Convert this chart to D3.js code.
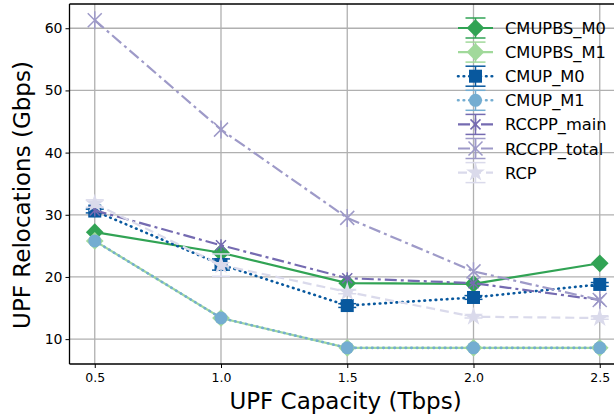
<!DOCTYPE html>
<html>
<head>
<meta charset="utf-8">
<script src="https://cdn.jsdelivr.net/npm/d3@7"></script>
<style>
  body { margin: 0; background: #fff; }
  svg { font-family: "DejaVu Sans", sans-serif; }
</style>
</head>
<body>
<div id="svganchor"></div>
<script>
// data
let capacities = [0.5, 1.0, 1.5, 2.0, 2.5];
let xTicks = [0.5, 1.0, 1.5, 2.0, 2.5];
let yTicks = [10, 20, 30, 40, 50, 60];

let seriesNames = ["CMUPBS_M0", "CMUPBS_M1", "CMUP_M0", "CMUP_M1", "RCCPP_main", "RCCPP_total", "RCP"];
let cmupbsM0 = [27.2, 23.9, 19.0, 18.9, 22.2];
let cmupbsM1 = [25.8, 13.4, 8.6, 8.6, 8.6];
let cmupM0 = [30.6, 22.0, 15.4, 16.7, 18.8];
let cmupM1 = [25.8, 13.4, 8.6, 8.6, 8.6];
let rccppMain = [30.7, 25.1, 19.8, 19.0, 16.3];
let rccppTotal = [61.3, 43.7, 29.5, 20.9, 16.3];
let rcp = [31.8, 21.9, 17.6, 13.6, 13.4];
// half-widths of the error bars
let cmupM0Err = [0.3, 0.9, 0.3, 0.3, 0.3];
let rcpErr = [0.6, 1.8, 0.3, 0.2, 0.2];

let width = 614, height = 419;
let margin = { top: 4, right: -11, bottom: 55, left: 69.5 };

let svg = d3.select("#svganchor").append("svg").attr("width", width).attr("height", height);

let xScale = d3.scaleLinear().domain([0.4, 2.6]).range([margin.left, width - margin.right]);
let yScale = d3.scaleLinear().domain([6.0, 63.9]).range([height - margin.bottom, margin.top]);

// grid
svg.append("g").selectAll("line").data(xTicks).enter().append("line")
  .attr("x1", d => xScale(d)).attr("x2", d => xScale(d))
  .attr("y1", margin.top).attr("y2", height - margin.bottom)
  .attr("stroke", "#b0b0b0").attr("stroke-width", 1.3);
svg.append("g").selectAll("line").data(yTicks).enter().append("line")
  .attr("x1", margin.left).attr("x2", width)
  .attr("y1", d => yScale(d)).attr("y2", d => yScale(d))
  .attr("stroke", "#b0b0b0").attr("stroke-width", 1.3);

// axes
let xAxis = d3.axisBottom(xScale).tickValues(xTicks).tickFormat(d3.format(".1f")).tickSize(4).tickPadding(5);
let yAxis = d3.axisLeft(yScale).tickValues(yTicks).tickSize(4).tickPadding(3);

svg.append("g").attr("transform", "translate(0," + (height - margin.bottom) + ")").call(xAxis)
  .call(g => g.select(".domain").remove())
  .call(g => g.selectAll("text").attr("font-size", 12.5).attr("fill", "#000").attr("font-family", "DejaVu Sans"));
svg.append("g").attr("transform", "translate(" + margin.left + ",0)").call(yAxis)
  .call(g => g.select(".domain").remove())
  .call(g => g.selectAll("text").attr("font-size", 14).attr("fill", "#000").attr("font-family", "DejaVu Sans"));

let dotted = "0.6,5";
let series = [
  { name: "CMUPBS_M0", values: cmupbsM0, color: "#31a354", dash: null, marker: "diamond", err: null },
  { name: "CMUPBS_M1", values: cmupbsM1, color: "#a1d99b", dash: null, marker: "diamond", err: null },
  { name: "CMUP_M0", values: cmupM0, color: "#08589e", dash: dotted, marker: "square", err: cmupM0Err },
  { name: "CMUP_M1", values: cmupM1, color: "#74add1", dash: dotted, marker: "circle", err: null },
  { name: "RCCPP_main", values: rccppMain, color: "#756bb1", dash: "12,4,3,4", marker: "xsmall", err: null },
  { name: "RCCPP_total", values: rccppTotal, color: "#9e9ac8", dash: "12,4,3,4", marker: "asterisk", err: null },
  { name: "RCP", values: rcp, color: "#dadaeb", dash: "9,5", marker: "star", err: rcpErr }
];

function drawMarker(g, type, color) {
  if (type === "diamond") {
    g.append("path").attr("d", d3.symbol(d3.symbolDiamond2, 200)()).attr("fill", color);
  } else if (type === "square") {
    g.append("rect").attr("x", -6.5).attr("y", -6.5).attr("width", 13).attr("height", 13).attr("fill", color);
  } else if (type === "circle") {
    g.append("circle").attr("r", 6.5).attr("fill", color);
  } else if (type === "xsmall") {
    g.append("path").attr("d", "M-5,-5L5,5M-5,5L5,-5M0,-6L0,6").attr("stroke", color).attr("stroke-width", 1.5);
  } else if (type === "asterisk") {
    g.append("path").attr("d", "M-7,-7L7,7M-7,7L7,-7M0,-9L0,9").attr("stroke", color).attr("stroke-width", 1.5);
  } else if (type === "star") {
    g.append("path").attr("d", d3.symbol(d3.symbolStar, 110)()).attr("fill", color);
  }
}

let line = d3.line().x((d, i) => xScale(capacities[i])).y(d => yScale(d));

series.forEach(function (s) {
  let g = svg.append("g").attr("class", "series");
  g.append("path").datum(s.values).attr("d", line)
    .attr("fill", "none").attr("stroke", s.color).attr("stroke-width", s.dash === dotted ? 2.6 : 2.2)
    .attr("stroke-dasharray", s.dash).attr("stroke-linecap", s.dash === dotted ? "round" : "butt");
  if (s.err) {
    s.values.forEach(function (v, i) {
      let x = xScale(capacities[i]);
      let y1 = yScale(v - s.err[i]), y2 = yScale(v + s.err[i]);
      g.append("line").attr("x1", x).attr("x2", x).attr("y1", y1).attr("y2", y2).attr("stroke", s.color).attr("stroke-width", 1.5);
      [y1, y2].forEach(function (yy) {
        g.append("line").attr("x1", x - 9).attr("x2", x + 9).attr("y1", yy).attr("y2", yy).attr("stroke", s.color).attr("stroke-width", 1.5);
      });
    });
  }
  s.values.forEach(function (v, i) {
    let m = g.append("g").attr("transform", "translate(" + xScale(capacities[i]) + "," + yScale(v) + ")");
    drawMarker(m, s.marker, s.color);
  });
});

// spines (left, bottom, top)
svg.append("line").attr("x1", margin.left).attr("x2", margin.left).attr("y1", margin.top).attr("y2", height - margin.bottom)
  .attr("stroke", "#000").attr("stroke-width", 1.3);
svg.append("line").attr("x1", margin.left).attr("x2", width).attr("y1", height - margin.bottom).attr("y2", height - margin.bottom)
  .attr("stroke", "#000").attr("stroke-width", 1.3);
svg.append("line").attr("x1", margin.left).attr("x2", width).attr("y1", margin.top).attr("y2", margin.top)
  .attr("stroke", "#000").attr("stroke-width", 1.3);

// axis titles
svg.append("text").attr("x", 345.5).attr("y", 409)
  .attr("text-anchor", "middle").attr("font-size", 23).text("UPF Capacity (Tbps)");
svg.append("text").attr("transform", "translate(30,195) rotate(-90)")
  .attr("text-anchor", "middle").attr("font-size", 23).text("UPF Relocations (Gbps)");

// legend
let legend = svg.append("g").attr("transform", "translate(458,28)");
series.forEach(function (s, i) {
  let row = legend.append("g").attr("transform", "translate(0," + (i * 24.1) + ")");
  row.append("line").attr("x1", 0).attr("x2", 35).attr("y1", 0).attr("y2", 0)
    .attr("stroke", s.color).attr("stroke-width", s.dash === dotted ? 2.6 : 2.2).attr("stroke-dasharray", s.dash)
    .attr("stroke-linecap", s.dash === dotted ? "round" : "butt");
  row.append("line").attr("x1", 17.5).attr("x2", 17.5).attr("y1", -10).attr("y2", 10).attr("stroke", s.color).attr("stroke-width", 1.5);
  [-10, 10].forEach(function (yy) {
    row.append("line").attr("x1", 7.5).attr("x2", 27.5).attr("y1", yy).attr("y2", yy).attr("stroke", s.color).attr("stroke-width", 1.5);
  });
  let m = row.append("g").attr("transform", "translate(17.5,0)");
  drawMarker(m, s.marker, s.color);
  row.append("text").attr("x", 47).attr("y", 6).attr("font-size", 16.3).attr("fill", "#000").text(s.name);
});
</script>
</body>
</html>
